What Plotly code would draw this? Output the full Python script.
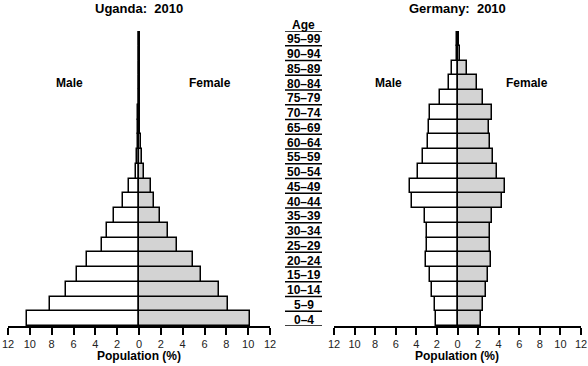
import numpy as np
import plotly.graph_objects as go

ages = ["0\u20134", "5\u20139", "10\u201314", "15\u201319", "20\u201324", "25\u201329", "30\u201334",
        "35\u201339", "40\u201344", "45\u201349", "50\u201354", "55\u201359", "60\u201364", "65\u201369",
        "70\u201374", "75\u201379", "80\u201384", "85\u201389", "90\u201394", "95\u201399"]

uganda_male = [10.3, 8.15, 6.66, 5.71, 4.79, 3.36, 2.9, 2.29, 1.44, 0.92,
               0.3, 0.15, 0.12, 0.1, 0.07, 0.04, 0.02, 0.01, 0.0, 0.0]
uganda_female = [10.17, 8.15, 7.3, 5.68, 4.92, 3.45, 2.69, 1.92, 1.37, 1.07,
                 0.49, 0.3, 0.17, 0.13, 0.1, 0.06, 0.03, 0.01, 0.0, 0.0]

germany_male = [2.1, 2.23, 2.49, 2.72, 3.04, 2.98, 2.98, 3.2, 4.43, 4.66,
                3.86, 3.37, 2.82, 2.75, 2.72, 1.68, 0.87, 0.58, 0.05, 0.02]
germany_female = [2.27, 2.46, 2.75, 3.0, 3.27, 3.17, 3.17, 3.33, 4.37, 4.63,
                  3.88, 3.43, 3.17, 3.1, 3.4, 2.43, 1.94, 0.94, 0.25, 0.05]

tick_vals = [-12, -10, -8, -6, -4, -2, 0, 2, 4, 6, 8, 10, 12]
tick_text = [str(abs(v)) for v in tick_vals]

W, H = 588, 366
FONT = "Liberation Sans, Arial, sans-serif"
MALE_FILL = "#ffffff"
FEMALE_FILL = "#d3d3d3"
EDGE = "#000000"

ypos = np.arange(len(ages))

fig = go.Figure()

def add_pyramid(male, female, xa, ya):
    fig.add_trace(go.Bar(y=ypos, x=[-v for v in male], orientation="h", width=1,
                         marker=dict(color=MALE_FILL, line=dict(color=EDGE, width=1.5)),
                         xaxis=xa, yaxis=ya, showlegend=False, hoverinfo="skip"))
    fig.add_trace(go.Bar(y=ypos, x=female, orientation="h", width=1,
                         marker=dict(color=FEMALE_FILL, line=dict(color=EDGE, width=1.5)),
                         xaxis=xa, yaxis=ya, showlegend=False, hoverinfo="skip"))

add_pyramid(uganda_male, uganda_female, "x", "y")
add_pyramid(germany_male, germany_female, "x2", "y2")

ydom = [1 - 326 / H, 1 - 31 / H]
xdom1 = [8 / W, 270 / W]
xdom2 = [334 / W, 581 / W]

xcommon = dict(range=[-12, 12], tickvals=tick_vals, ticktext=tick_text,
               showline=True, linecolor="black", linewidth=1.5,
               ticks="outside", ticklen=7, tickwidth=1.5, tickcolor="black",
               showgrid=False, zeroline=True, zerolinecolor="black", zerolinewidth=1.5,
               layer="above traces", automargin=False,
               tickfont=dict(family=FONT, size=11, color="#222222"), fixedrange=True)
ycommon = dict(range=[-0.5, len(ages) - 0.5], showticklabels=False, showgrid=False,
               zeroline=False, showline=False, ticks="", domain=ydom, fixedrange=True,
               automargin=False)

fig.update_layout(
    width=W, height=H,
    margin=dict(l=0, r=0, t=0, b=0, pad=0, autoexpand=False),
    paper_bgcolor="white", plot_bgcolor="white",
    barmode="relative", bargap=0,
    xaxis=dict(domain=xdom1, anchor="y", **xcommon),
    yaxis=dict(anchor="x", **ycommon),
    xaxis2=dict(domain=xdom2, anchor="y2", **xcommon),
    yaxis2=dict(anchor="x2", **ycommon),
    font=dict(family=FONT, color="black"),
)

bold = dict(family=FONT, size=12, color="black")
C = dict(xanchor="center", yanchor="middle", showarrow=False)
AGE_X = 303.5 / W
ann = []
# titles
ann.append(dict(text="<b>Uganda:  2010</b>", xref="paper", yref="paper",
                x=139 / W, y=1 - 8 / H, font=dict(family=FONT, size=13), **C))
ann.append(dict(text="<b>Germany:  2010</b>", xref="paper", yref="paper",
                x=457 / W, y=1 - 8 / H, font=dict(family=FONT, size=13), **C))
# Male / Female
for xa, ya, mx, fx in [("x", "y", -6.4, 6.5), ("x2", "y2", -6.7, 6.8)]:
    ann.append(dict(text="<b>Male</b>", xref=xa, yref=ya, x=mx, y=16, font=bold, **C))
    ann.append(dict(text="<b>Female</b>", xref=xa, yref=ya, x=fx, y=16, font=bold, **C))
# axis titles
for xc in [139, 457]:
    ann.append(dict(text="<b>Population (%)</b>", xref="paper", yref="paper",
                    x=xc / W, y=1 - 356 / H, font=bold, **C))
# Age column
ann.append(dict(text="<b>Age</b>", xref="paper", yref="paper", x=AGE_X, y=1 - 25 / H,
                font=bold, **C))
for i, a in enumerate(ages):
    ann.append(dict(text="<b>" + a + "</b>", xref="paper", yref="y", x=AGE_X, y=i - 0.07,
                    font=bold, **C))
shapes = []
for i in range(len(ages) + 1):
    shapes.append(dict(type="line", xref="paper", yref="y", x0=285 / W, x1=322 / W,
                       y0=i - 0.5, y1=i - 0.5, line=dict(color="black", width=1.5)))

fig.update_layout(annotations=ann, shapes=shapes)
fig.write_html("out.html", config={"displayModeBar": False},
               post_script="document.body.style.margin='0px';document.body.style.padding='0px';")
